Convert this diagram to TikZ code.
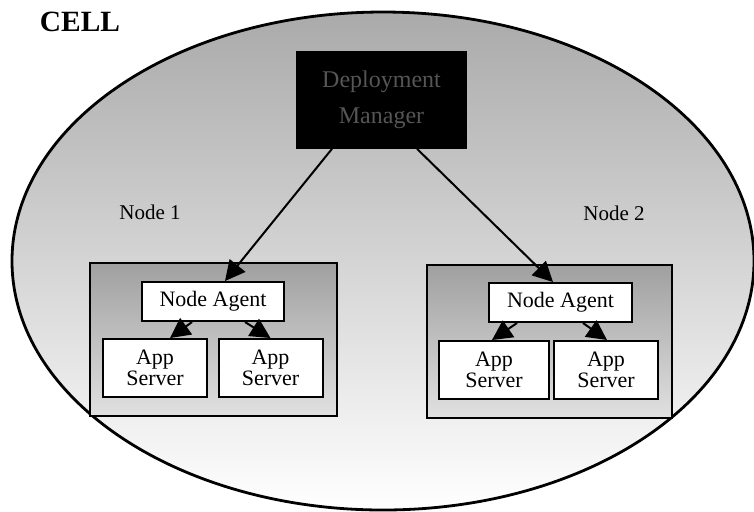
\documentclass[tikz,border=0pt]{standalone}
\usepackage{fontspec}
\setmainfont{Liberation Serif}
\usetikzlibrary{arrows.meta, calc, positioning}
\definecolor{cellgray}{RGB}{170, 170, 170}
\definecolor{hostgray}{RGB}{160, 160, 160}
\definecolor{dmtext}{RGB}{85, 85, 85}

\begin{document}
\begin{tikzpicture}[x=0.5pt, y=-0.5pt,
		box/.style={draw, line width=1pt, fill=white, inner sep=0pt},
		host/.style={draw, line width=1.4pt, inner sep=0pt, top color=hostgray, bottom color=black!12},
		link/.style={line width=1pt, -{Triangle[length=10pt, width=10pt]}},
		srv/.style={box, minimum width=52pt, minimum height=29pt, align=center, font=\fontsize{11}{8.5}\selectfont}]
	\useasboundingbox (0,0) rectangle (754,511);
	
	% the cell
	\begin{scope}
		\clip (0,0) rectangle (754,511);
		\draw[line width=1.4pt, top color=cellgray, middle color=black!5, bottom color=white] (383,261) ellipse [x radius=371, y radius=249];
	\end{scope}
	\node[font=\fontsize{14.7}{16}\selectfont\bfseries] (cell) at (80,22) {CELL};
	
	% deployment manager
	\node[draw, thick, fill=black, text=dmtext, minimum width=84.5pt, minimum height=48pt, align=center, font=\fontsize{12}{18}\selectfont] (dm) at (381.5,100) {Deployment\\Manager};
	
	% node 1
	\node[host, minimum width=123.5pt, minimum height=76.5pt] (host1) at (213.5,339.5) {};
	\node[font=\fontsize{10.5}{12}\selectfont] (lab1) at (150,212) {Node 1};
	\node[box, minimum width=71pt, minimum height=19.5pt, font=\fontsize{11}{12}\selectfont] (na1) at (213,301.5) {Node Agent};
	\node[srv] (as1a) at (155,368) {App\\Server};
	\node[srv] (as1b) at (270.5,368) {App\\Server};
	
	% node 2
	\node[host, minimum width=122.5pt, minimum height=76.5pt] (host2) at (549.5,341.5) {};
	\node[font=\fontsize{10.5}{12}\selectfont] (lab2) at (614,213) {Node 2};
	\node[box, minimum width=71.5pt, minimum height=19.5pt, font=\fontsize{11}{12}\selectfont] (na2) at (560.5,302.5) {Node Agent};
	\node[srv, minimum width=55pt] (as2a) at (494,370) {App\\Server};
	\node[srv] (as2b) at (606,370) {App\\Server};
	
	% links
	\draw[link] ([xshift=-24.75pt]dm.south) -- ([xshift=6pt]na1.north);
	\draw[link] ([xshift=17.75pt]dm.south) -- ([xshift=-3.75pt]na2.north);
	\draw[link] ([xshift=-10.5pt]na1.south) -- ([xshift=7.5pt]as1a.north);
	\draw[link] ([xshift=16pt]na1.south) -- (as1b.north);
	\draw[link] ([xshift=-21.75pt]na2.south) -- ([xshift=-1pt]as2a.north);
	\draw[link] ([xshift=11.25pt]na2.south) -- ([xshift=0.5pt]as2b.north);
\end{tikzpicture}
\end{document}
